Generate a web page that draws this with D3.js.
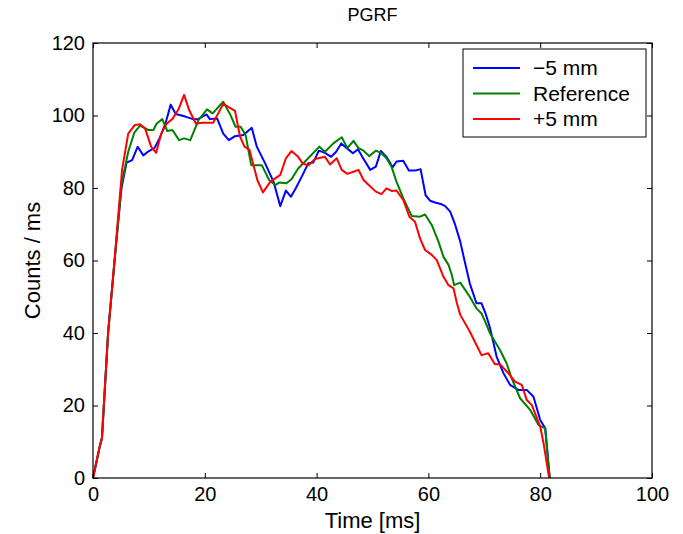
<!DOCTYPE html>
<html>
<head>
<meta charset="utf-8">
<script src="https://cdn.jsdelivr.net/npm/d3@7"></script>
<style>
  body { margin: 0; background: #fff; }
  svg { font-family: "Liberation Sans", Arial, sans-serif; }
</style>
</head>
<body>
<div id="chart"></div>
<script>
// PGRF traces, values
var seriesNames = ["\u22125 mm", "Reference", "+5 mm"];
var seriesColors = ["#0000ff", "#008000", "#ff0000"];

var xTicks = [0, 20, 40, 60, 80, 100];
var yTicks = [0, 20, 40, 60, 80, 100, 120];

var minusTime = [0, 1.25, 1.6, 2.7, 4.1, 5.1, 6, 7, 8, 9, 10, 11, 12, 13, 13.9, 14.8, 16.5, 17.9, 18.8, 20.3, 20.9, 22.2, 23.3, 24.3, 25.4, 26.9, 28.4, 29.3, 30.8, 32.3, 33.5, 34.5, 35.4, 36.3, 37.3, 38.5, 39.4, 40.4, 41.5, 42.6, 43.5, 44.4, 45.4, 46.5, 47.4, 48.3, 49.6, 50.6, 51.5, 52.5, 53.6, 54.3, 55.5, 56.5, 57.6, 58.6, 59.5, 60.3, 61.2, 62.2, 63, 63.9, 64.8, 65.7, 66.5, 67.4, 68.6, 69.5, 70.2, 71, 72.2, 73.4, 74.6, 76.1, 77.6, 78.8, 80, 80.9, 81.7];
var minusCounts = [0, 9, 11, 40, 64, 80, 87, 87.7, 91.4, 89, 90.2, 91, 94, 98, 103, 100.4, 99.7, 99, 99, 100.3, 99, 99.2, 95, 93.2, 94.3, 94.6, 96.6, 91.4, 86.8, 81.7, 75, 79.3, 77.6, 80, 83, 86.8, 87, 90.3, 89.7, 88.6, 90, 92.3, 91, 89.6, 90.7, 88.3, 85, 85.9, 90.2, 88.6, 85.7, 87.3, 87.5, 84.8, 84.8, 85.2, 78, 76.5, 76, 75.6, 75, 73.5, 69.8, 65.2, 59.7, 53.7, 48.2, 48.2, 45.5, 41.5, 33.5, 29, 25.7, 24.3, 24.3, 22.4, 16, 13.7, 0];

var refTime = [0, 1.25, 1.6, 2.7, 4.1, 5.1, 6.3, 7.4, 8.4, 9.9, 10.8, 11.4, 12.4, 13.3, 14.2, 15.4, 16.3, 17.4, 18.9, 20.4, 21.4, 23.3, 24.6, 25.5, 26.4, 27.3, 28.3, 30.2, 31.5, 32.6, 33.3, 34.6, 35.5, 36.7, 38.5, 40.5, 41.5, 43, 44.5, 45.5, 46.6, 47.5, 48.4, 49.4, 50.6, 51.6, 52.5, 53.4, 54.3, 55.5, 57, 58.5, 59.4, 60.6, 61.8, 62.7, 63.6, 64.2, 64.6, 65.7, 67.4, 68.6, 69.5, 70.2, 71, 72.8, 74, 74.9, 76.4, 78.2, 79.7, 80.9, 81.7];
var refCounts = [0, 9, 11, 40, 64, 81, 90, 95.3, 97.2, 96, 96, 97.8, 99, 95.7, 96, 93.2, 93.7, 93.2, 98.8, 101.7, 100.6, 103.8, 100.1, 96.9, 96.9, 94.6, 86.3, 86.3, 82.2, 80.8, 81.5, 81.3, 82.4, 85.4, 88.2, 91.4, 90, 92.3, 94, 91, 93, 91, 90.3, 88.8, 90.3, 89.6, 88.2, 85.9, 81.7, 77.2, 72.3, 72.1, 72.7, 69.8, 65.2, 61, 58.8, 56, 53.2, 53.9, 50, 46.8, 45.4, 43, 40, 35.3, 31.6, 27.5, 22, 18.8, 14.6, 13.7, 0];

var plusTime = [0, 1.25, 1.6, 2.7, 3.9, 5.2, 6.3, 7.5, 8.4, 9.3, 10.4, 11.3, 12.2, 13.2, 14.2, 15.3, 16.3, 17.2, 18.4, 19.7, 21.5, 23.3, 25.4, 26.3, 27.1, 28, 29.4, 30.4, 31.7, 33.5, 34.5, 35.5, 36.7, 37.5, 38.5, 39.7, 41.5, 42.4, 43.6, 44.5, 45.5, 46.6, 47.5, 48.4, 49.6, 50.6, 51.6, 52.5, 53.4, 54.3, 55.5, 56.6, 57.6, 58.5, 59.4, 60.5, 61.5, 62.7, 63.6, 64.5, 65.1, 65.7, 67.4, 69.5, 70.7, 71.9, 72.8, 74.3, 75.5, 76.7, 77.6, 78.5, 80, 80.6, 81.6];
var plusCounts = [0, 9, 11, 40, 61, 85, 95, 97.4, 97.6, 96.5, 91.4, 89.7, 95, 97.8, 99, 101.7, 105.7, 101.5, 97.8, 98, 98, 103.2, 101.3, 94.2, 91.4, 90.5, 82.2, 78.8, 81.7, 83.6, 88.2, 90.2, 88.6, 86.8, 86.2, 88, 88.6, 86.5, 88.2, 85, 83.9, 84.5, 85, 82.2, 80.4, 79, 78.3, 79.9, 79.2, 79.3, 76.7, 72.1, 70.7, 66.1, 62.9, 61.7, 60.1, 55.5, 53.2, 52.3, 48.2, 45, 40.4, 33.9, 34.4, 31.4, 31.4, 28.9, 26.6, 25.7, 21.5, 20.1, 14.2, 9.6, 0];

var series = [
  { name: seriesNames[0], color: seriesColors[0], t: minusTime, v: minusCounts },
  { name: seriesNames[1], color: seriesColors[1], t: refTime, v: refCounts },
  { name: seriesNames[2], color: seriesColors[2], t: plusTime, v: plusCounts }
];

var W = 683, H = 534;
var margin = { left: 93, right: 31, top: 43, bottom: 56 };
var iw = W - margin.left - margin.right, ih = H - margin.top - margin.bottom;

var svg = d3.select("#chart").append("svg").attr("width", W).attr("height", H);
var g = svg.append("g").attr("transform", "translate(" + margin.left + "," + margin.top + ")");

var x = d3.scaleLinear().domain([0, 100]).range([0, iw]);
var y = d3.scaleLinear().domain([0, 120]).range([ih, 0]);

// lines
var line = d3.line().x(function(d) { return x(d[0]) }).y(function(d) { return y(d[1]) });
series.forEach(function(s) {
  var pts = s.t.map(function(t, i) { return [t, s.v[i]] });
  g.append("path").datum(pts)
    .attr("fill", "none").attr("stroke", s.color).attr("stroke-width", 2)
    .attr("stroke-linejoin", "round").attr("d", line);
});

// axes, matlab style: ticks inside on all four sides
function styleAxis(sel, fontSize) {
  sel.select(".domain").remove();
  sel.selectAll("line").attr("stroke", "#000");
  sel.selectAll("text").attr("font-size", fontSize).attr("fill", "#000")
    .attr("font-family", "Liberation Sans, Arial, sans-serif");
}
g.append("g").attr("transform", "translate(0," + ih + ")")
  .call(d3.axisBottom(x).tickValues(xTicks).tickSizeInner(-5).tickSizeOuter(0).tickPadding(9))
  .call(styleAxis, 20);
g.append("g")
  .call(d3.axisTop(x).tickValues(xTicks).tickSizeInner(-5).tickSizeOuter(0).tickFormat(""))
  .call(styleAxis, 20);
g.append("g")
  .call(d3.axisLeft(y).tickValues(yTicks).tickSizeInner(-5).tickSizeOuter(0).tickPadding(8))
  .call(styleAxis, 20);
g.append("g").attr("transform", "translate(" + iw + ",0)")
  .call(d3.axisRight(y).tickValues(yTicks).tickSizeInner(-5).tickSizeOuter(0).tickFormat(""))
  .call(styleAxis, 20);

g.append("rect").attr("width", iw).attr("height", ih)
  .attr("fill", "none").attr("stroke", "#000").attr("stroke-width", 1.2);

// title and labels
svg.append("text").attr("x", margin.left + iw / 2).attr("y", 21)
  .attr("text-anchor", "middle").attr("font-size", 18).text("PGRF");
svg.append("text").attr("x", margin.left + iw / 2).attr("y", 528)
  .attr("text-anchor", "middle").attr("font-size", 22).text("Time [ms]");
svg.append("text").attr("transform", "translate(40," + (margin.top + ih / 2) + ") rotate(-90)")
  .attr("text-anchor", "middle").attr("font-size", 22).text("Counts / ms");

// legend
var lg = svg.append("g").attr("transform", "translate(463,49)");
lg.append("rect").attr("width", 183).attr("height", 88)
  .attr("fill", "#fff").attr("stroke", "#000").attr("stroke-width", 1);
series.forEach(function(s, i) {
  var yy = 19 + i * 25.5;
  lg.append("line").attr("x1", 10).attr("x2", 57).attr("y1", yy).attr("y2", yy)
    .attr("stroke", s.color).attr("stroke-width", 2);
  lg.append("text").attr("x", 70).attr("y", yy + 7).attr("font-size", 21).text(s.name);
});
</script>
</body>
</html>
